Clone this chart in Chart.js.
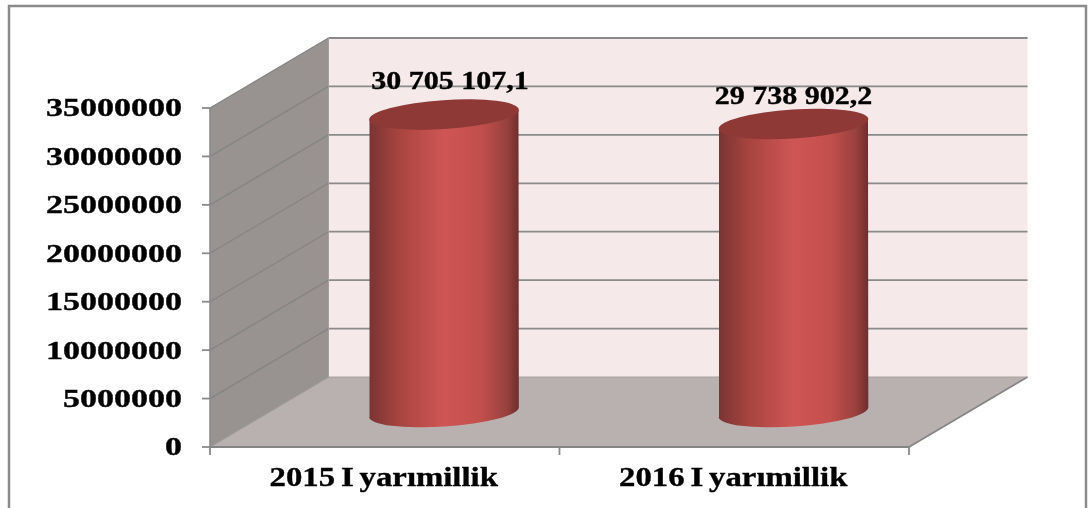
<!DOCTYPE html>
<html><head><meta charset="utf-8">
<style>html,body{margin:0;padding:0;background:#fff;overflow:hidden}canvas{display:block;filter:blur(.5px)}</style>
<script src="https://cdn.jsdelivr.net/npm/chart.js@4"></script>
</head><body>
<canvas id="c" width="1089" height="508"></canvas>
<script>
const categories = ["2015 I yarımillik", "2016 I yarımillik"];
const values = [30705107.1, 29738902.2];
const valueLabels = ["30 705 107,1", "29 738 902,2"];
const labelNudgeX = [6, 0];
const labelNudgeY = [-32, -26];
const yMax = 35000000;
const yStep = 5000000;
const depthX = 118.5, depthY = 70;

function stretched(ctx, text, x, y, size, sx, align, wordGap) {
  ctx.save();
  ctx.translate(x, y);
  ctx.scale(sx, 1);
  ctx.font = 'bold ' + size + 'px "Liberation Serif"';
  ctx.wordSpacing = (wordGap || 0) + 'px';
  ctx.fillStyle = '#000';
  ctx.strokeStyle = '#000';
  ctx.lineWidth = 0.35;
  ctx.textAlign = align;
  ctx.textBaseline = 'middle';
  ctx.fillText(text, 0, 0);
  ctx.strokeText(text, 0, 0);
  ctx.restore();
}
function poly(ctx, pts, fill) {
  ctx.beginPath();
  pts.forEach((p, i) => i ? ctx.lineTo(p[0], p[1]) : ctx.moveTo(p[0], p[1]));
  ctx.closePath();
  ctx.fillStyle = fill;
  ctx.fill();
}
function seg(ctx, x1, y1, x2, y2, col, w) {
  ctx.beginPath();
  ctx.moveTo(x1, y1);
  ctx.lineTo(x2, y2);
  ctx.strokeStyle = col;
  ctx.lineWidth = w;
  ctx.stroke();
}

const scene = {
  id: 'scene',
  beforeDraw(chart) {
    const ctx = chart.ctx;
    ctx.save();
    ctx.fillStyle = '#fff';
    ctx.fillRect(0, 0, chart.width, chart.height);
    ctx.beginPath();
    ctx.moveTo(9, 508);
    ctx.lineTo(9, 6);
    ctx.lineTo(1086, 6);
    ctx.lineTo(1086, 508);
    ctx.strokeStyle = '#8a8a8a';
    ctx.lineWidth = 2.5;
    ctx.stroke();
    ctx.restore();
  },
  beforeDatasetsDraw(chart) {
    const ctx = chart.ctx, y = chart.scales.y, x = chart.scales.x;
    const L = x.left, R = x.right, B = y.getPixelForValue(0), T = y.getPixelForValue(yMax);
    ctx.save();
    poly(ctx, [[L + depthX, T - depthY], [R + depthX, T - depthY], [R + depthX, B - depthY], [L + depthX, B - depthY]], '#f5e9e9');
    poly(ctx, [[L, T], [L + depthX, T - depthY], [L + depthX, B - depthY], [L, B]], '#989291');
    poly(ctx, [[L, B], [R, B], [R + depthX, B - depthY], [L + depthX, B - depthY]], '#b9b0b0');
    y.ticks.forEach(t => {
      const py = y.getPixelForValue(t.value);
      if (t.value > 0) {
        seg(ctx, L + depthX, py - depthY, R + depthX, py - depthY, '#8a8a8a', 1.8);
        seg(ctx, L, py, L + depthX, py - depthY, '#858585', 1.3);
      }
      seg(ctx, L - 8, py, L, py, '#8a8a8a', 1.8);
    });
    seg(ctx, L + depthX, T - depthY, L + depthX, B - depthY, '#a5a0a0', 1);
    seg(ctx, L, T, L, B, '#8a8a8a', 1.6);
    seg(ctx, L, B, L + depthX, B - depthY, '#999', 1.2);
    seg(ctx, R, B, R + depthX, B - depthY, '#858585', 1.6);
    seg(ctx, L + depthX, B - depthY, R + depthX, B - depthY, '#a8a0a0', 1);
    seg(ctx, L, B, R, B, '#858585', 2);
    [L, (L + R) / 2, R].forEach(px => seg(ctx, px, B, px, B + 8, '#8a8a8a', 1.8));
    ctx.restore();
  },
  afterDatasetsDraw(chart) {
    const ctx = chart.ctx;
    const a = 75, b = 14.5, rot = -3.8 * Math.PI / 180;
    chart.getDatasetMeta(0).data.forEach((el, i) => {
      const cx = el.x + depthX / 2, half = el.width / 2;
      const top = el.y - depthY / 2, base = el.base - depthY / 2;
      const lean = 5;
      const g = ctx.createLinearGradient(cx - half, 0, cx + half, 0);
      g.addColorStop(0, '#7a3433');
      g.addColorStop(0.2, '#a8443f');
      g.addColorStop(0.5, '#cf5655');
      g.addColorStop(0.75, '#c24f4c');
      g.addColorStop(0.92, '#98413d');
      g.addColorStop(1, '#6f2f2e');
      ctx.save();
      ctx.beginPath();
      ctx.moveTo(cx - half, top + lean);
      ctx.lineTo(cx - half, base + lean);
      ctx.ellipse(cx, base, a, b, rot, Math.PI, 0, true);
      ctx.lineTo(cx + half, top - lean);
      ctx.closePath();
      ctx.fillStyle = g;
      ctx.fill();
      ctx.beginPath();
      ctx.ellipse(cx, top, a, b, rot, 0, Math.PI * 2);
      ctx.fillStyle = '#8f3937';
      ctx.fill();
      ctx.restore();
      stretched(ctx, valueLabels[i], cx + labelNudgeX[i], top + labelNudgeY[i], 25, 1.2, 'center', 0);
    });
  },
  afterDraw(chart) {
    const ctx = chart.ctx, y = chart.scales.y, x = chart.scales.x;
    y.ticks.forEach(t => {
      stretched(ctx, String(t.value), x.left - 28, y.getPixelForValue(t.value) + 2, 25, 1.36, 'right', 0);
    });
    categories.forEach((c, i) => {
      stretched(ctx, c, x.getPixelForTick(i) - 1, 479, 28, 1.17, 'center', -2);
    });
  }
};

new Chart(document.getElementById('c'), {
  type: 'bar',
  data: {
    labels: categories,
    datasets: [{
      data: values,
      backgroundColor: 'transparent',
      borderWidth: 0,
      barPercentage: 0.4263,
      categoryPercentage: 1
    }]
  },
  options: {
    responsive: false,
    animation: false,
    events: [],
    layout: { padding: { left: 210, right: 180, top: 108, bottom: 61 } },
    plugins: { legend: { display: false }, tooltip: { enabled: false }, title: { display: false } },
    scales: {
      x: {
        grid: { display: false }, border: { display: false }, ticks: { display: false },
        afterFit(s) { s.height = 0; }
      },
      y: {
        min: 0, max: yMax,
        grid: { display: false }, border: { display: false },
        ticks: { display: false, stepSize: yStep },
        afterFit(s) { s.width = 0; }
      }
    }
  },
  plugins: [scene]
});
</script>
</body></html>
